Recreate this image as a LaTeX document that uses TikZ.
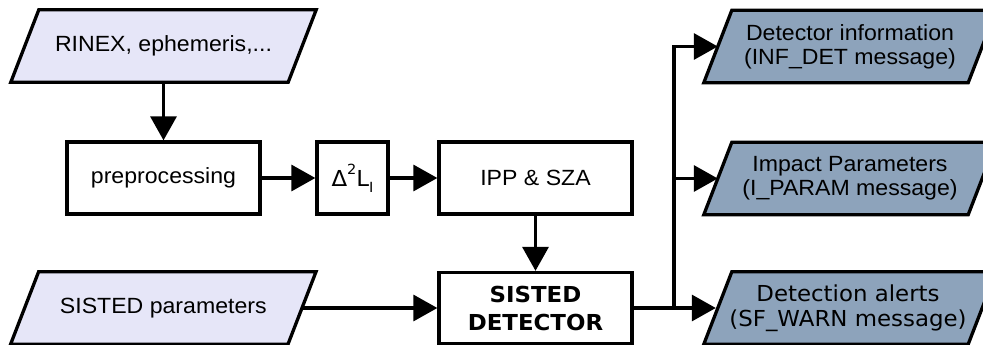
\documentclass[tikz,border=0pt]{standalone}
\usepackage{fontspec}
\setmainfont{Liberation Sans}[FakeStretch=1.05]
\newfontfamily\dvs{DejaVu Sans}[FakeStretch=1.04]
\usetikzlibrary{arrows.meta,backgrounds}
\definecolor{inFill}{HTML}{E6E6F8}
\definecolor{outFill}{HTML}{8DA3BB}
\tikzset{
  every node/.style={font=\fontsize{22}{24}\selectfont},
  box/.style={draw, line width=3.3pt, fill=white, minimum width=193pt, minimum height=72pt, inner sep=0pt, align=center},
  para/.style={minimum width=277pt, minimum height=72pt, inner sep=0pt, align=center},
  arr/.style={line width=3.3pt, -{Triangle[length=24pt,width=26pt]}},
  paraline/.style={draw, line width=3.3pt, line join=miter},
}
\newcommand{\paraShape}[2]{%
  \path[paraline, fill=#2] ([xshift=14pt]#1.north west) -- ([xshift=14pt]#1.north east)
    -- ([xshift=-14pt]#1.south east) -- ([xshift=-14pt]#1.south west) -- cycle;}
\begin{document}
\begin{tikzpicture}[x=1pt,y=-1pt]
\useasboundingbox (0,0) rectangle (983,345);
\clip (0,0) rectangle (983,345);

% inputs
\node[para] (in1) at (163.5,46) {RINEX, ephemeris,...};
\node[para] (in2) at (163.3,308) {SISTED parameters};

% processing boxes
\node[box] (pre) at (163.5,178) {preprocessing};
\node[box, minimum width=71pt] (d2l) at (352.5,178)
  {{\dvs Δ\raisebox{0.55em}{\fontsize{14}{14}\selectfont 2}L\raisebox{-0.28em}{\fontsize{14}{14}\selectfont I}}};
\node[box] (ipp) at (535.5,178) {IPP \& SZA};
\node[box, minimum height=71pt, font=\dvs\bfseries\fontsize{22}{28}\selectfont] (det) at (535.5,308) {SISTED\\DETECTOR};

% outputs
\node[para, minimum width=264pt] (out1) at (850,46.5) {Detector information\\(INF\_DET message)};
\node[para, minimum width=264pt] (out2) at (850,178.5) {Impact Parameters\\(I\_PARAM message)};
\node[para, minimum width=264pt, font=\dvs\fontsize{22}{25}\selectfont] (out3) at (848,308) {Detection alerts\\(SF\_WARN message)};

\begin{scope}[on background layer]
  \paraShape{in1}{inFill}
  \paraShape{in2}{inFill}
  \paraShape{out1}{outFill}
  \paraShape{out2}{outFill}
  \path[paraline, fill=outFill] ([xshift=16pt]out3.north west) -- ([xshift=16pt]out3.north east)
    -- ([xshift=-12pt]out3.south east) -- ([xshift=-12pt]out3.south west) -- cycle;
\end{scope}

% connectors
\draw[arr] (in1.south) -- (pre.north);
\draw[arr] (pre.east) -- (d2l.west);
\draw[arr] (d2l.east) -- (ipp.west);
\draw[arr] (ipp.south) -- (det.north);
\draw[arr] (in2.east) -- (det.west);
\coordinate (jb) at (674,308);
\draw[arr] (det.east) -- (out3.west);
\draw[arr] (jb) |- (out2.west);
\draw[arr] (jb) |- (out1.west);
\end{tikzpicture}
\end{document}
